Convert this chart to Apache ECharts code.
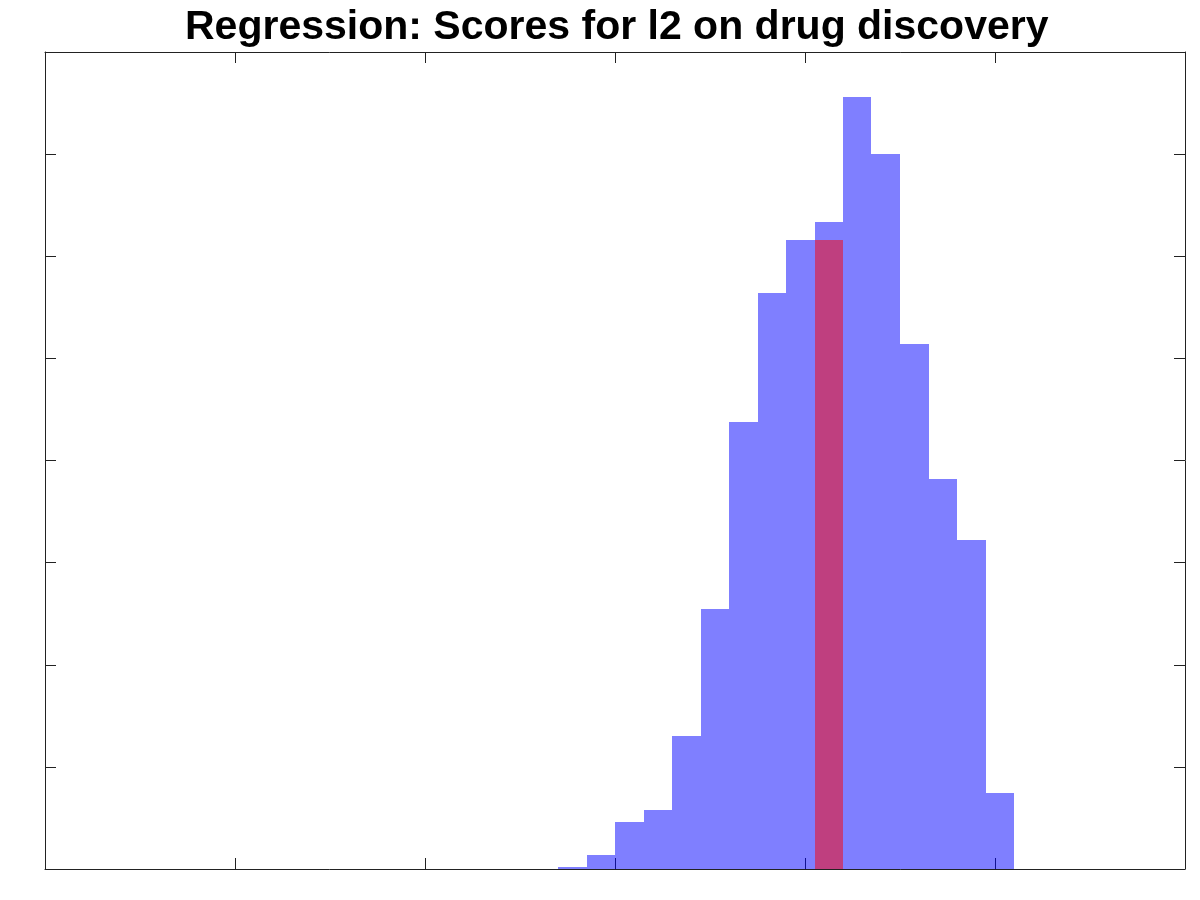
<!DOCTYPE html>
<html>
<head>
<meta charset="utf-8">
<title>Regression: Scores for l2 on drug discovery</title>
<script src="https://cdn.jsdelivr.net/npm/echarts@6/dist/echarts.min.js"></script>
<style>
  html, body { margin: 0; padding: 0; background: #fff; }
  #chart { width: 1200px; height: 900px; }
</style>
</head>
<body>
<div id="chart"></div>
<script>
// bin edges of the histogram (x units)
var binEdges = [2.70, 2.85, 3.00, 3.15, 3.30, 3.45, 3.60, 3.75, 3.90, 4.05, 4.20, 4.35, 4.50, 4.65, 4.80, 4.95, 5.10];
// blue histogram heights, one per bin
var blueHeights = [0.02, 0.14, 0.46, 0.58, 1.30, 2.55, 4.38, 5.64, 6.16, 6.34, 7.56, 7.00, 5.14, 3.82, 3.22, 0.74];
// red histogram: a single bin
var redEdges = [4.05, 4.20];
var redHeights = [6.16];

var titleText = 'Regression: Scores for l2 on drug discovery';

function makeBins(edges, heights) {
    var out = [];
    for (var i = 0; i < heights.length; i++) {
        out.push([edges[i], edges[i + 1], heights[i]]);
    }
    return out;
}

function barRenderer(color) {
    return function (params, api) {
        var top = api.coord([api.value(0), api.value(2)]);
        var bottom = api.coord([api.value(1), 0]);
        // snap to whole pixels so neighbouring bins don't show seams
        var x0 = Math.round(top[0]), x1 = Math.round(bottom[0]);
        var y0 = Math.round(top[1]), y1 = Math.round(bottom[1]);
        return {
            type: 'rect',
            shape: { x: x0, y: y0, width: x1 - x0, height: y1 - y0 },
            style: { fill: color }
        };
    };
}

var myChart = echarts.init(document.getElementById('chart'));

var axisLine = { show: true, onZero: false, lineStyle: { color: '#222', width: 1 } };
var axisTick = { show: true, inside: true, length: 11, lineStyle: { color: '#222', width: 1 } };

var option = {
    animation: false,
    backgroundColor: '#fff',
    title: {
        text: titleText,
        // title sits centred over the plot box, not the page
        left: 180,
        top: 2,
        textStyle: {
            fontFamily: 'Liberation Sans',
            fontSize: 41,
            fontWeight: 'bold',
            color: '#000'
        }
    },
    grid: {
        left: 45,
        right: 15,
        top: 52,
        bottom: 31
    },
    xAxis: [{
        type: 'value',
        position: 'bottom',
        min: 0,
        max: 6,
        interval: 1,
        axisLine: axisLine,
        axisTick: axisTick,
        axisLabel: { show: false },
        splitLine: { show: false }
    }, {
        type: 'value',
        position: 'top',
        min: 0,
        max: 6,
        interval: 1,
        axisLine: axisLine,
        axisTick: axisTick,
        axisLabel: { show: false },
        splitLine: { show: false }
    }],
    yAxis: [{
        type: 'value',
        position: 'left',
        min: 0,
        max: 8,
        interval: 1,
        axisLine: axisLine,
        axisTick: axisTick,
        axisLabel: { show: false },
        splitLine: { show: false }
    }, {
        type: 'value',
        position: 'right',
        min: 0,
        max: 8,
        interval: 1,
        axisLine: axisLine,
        axisTick: axisTick,
        axisLabel: { show: false },
        splitLine: { show: false }
    }],
    series: [{
        name: 'blue',
        type: 'custom',
        renderItem: barRenderer('rgba(0, 0, 255, 0.5)'),
        encode: { x: [0, 1], y: 2 },
        data: makeBins(binEdges, blueHeights)
    }, {
        name: 'red',
        type: 'custom',
        renderItem: barRenderer('rgba(255, 0, 0, 0.5)'),
        encode: { x: [0, 1], y: 2 },
        data: makeBins(redEdges, redHeights)
    }]
};

myChart.setOption(option);
</script>
</body>
</html>
